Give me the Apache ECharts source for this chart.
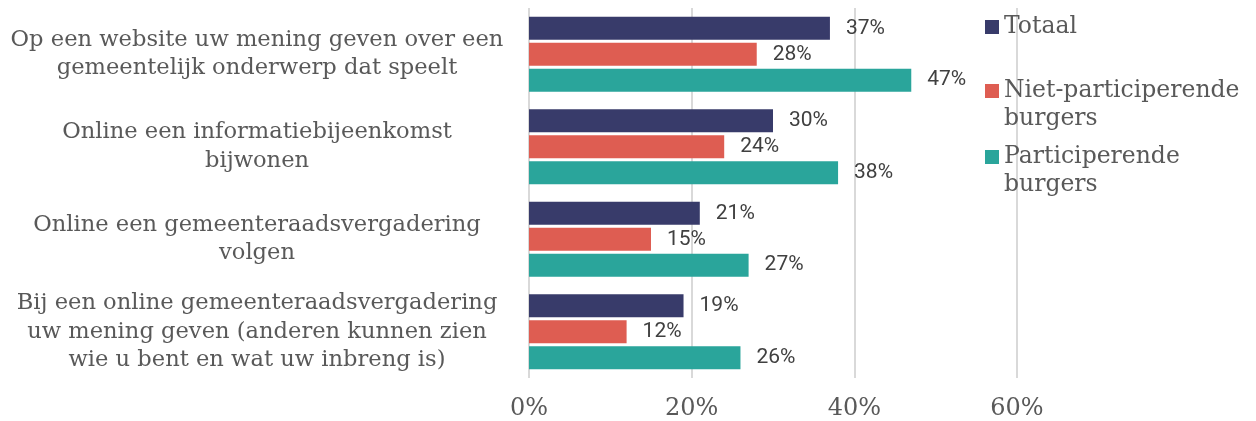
<!DOCTYPE html>
<html><head><meta charset="utf-8">
<script src="https://cdn.jsdelivr.net/npm/echarts@6/dist/echarts.min.js"></script>
<style>html,body{margin:0;padding:0;background:#fff}#c{width:1256px;height:421px}</style>
</head><body><div id="c"></div>
<script>
const categories = [
  "Op een website uw mening geven over een\ngemeentelijk onderwerp dat speelt",
  "Online een informatiebijeenkomst\nbijwonen",
  "Online een gemeenteraadsvergadering\nvolgen",
  "Bij een online gemeenteraadsvergadering\nuw mening geven (anderen kunnen zien\nwie u bent en wat uw inbreng is)"
];
const seriesNames = ["Totaal", "Niet-participerende\nburgers", "Participerende\nburgers"];
const totaal = [37, 30, 21, 19];
const nietParticiperend = [28, 24, 15, 12];
const participerend = [47, 38, 27, 26];
const xTicks = [0, 20, 40, 60];
const colors = ["#383B6A", "#DE5D52", "#2AA59B"];

const serif = "DejaVu Serif";
const chart = echarts.init(document.getElementById('c'));
const mk = (name, data, color) => ({
  name, type: 'bar', data, barWidth: 23, barGap: '13%',
  itemStyle: { color },
  label: { show: true, position: 'right', distance: 16, formatter: '{c}%',
    fontFamily: 'Roboto', fontSize: 21, color: '#404040' }
});
const legendTops = [13, 77, 143];
chart.setOption({
  animation: false,
  grid: { left: 529, right: 239, top: 8, bottom: 43 },
  xAxis: { type: 'value', min: xTicks[0], max: xTicks[xTicks.length-1], interval: 20,
    axisLine: { show: false }, axisTick: { show: false },
    splitLine: { show: true, lineStyle: { color: '#D9D9D9', width: 2 } },
    axisLabel: { formatter: '{value}%', fontFamily: serif, fontSize: 24, color: '#595959', margin: 19 } },
  yAxis: { type: 'category', data: categories, inverse: true,
    axisLine: { show: false }, axisTick: { show: false },
    axisLabel: { align: 'center', margin: 272, fontFamily: serif, fontSize: 22.6, lineHeight: 28.5, color: '#595959' } },
  legend: seriesNames.map((n, i) => ({
    data: [n],
    orient: 'vertical', left: 985, top: legendTops[i], padding: 0,
    itemWidth: 14, itemHeight: i === 0 ? 14 : 42,
    icon: i === 0 ? 'rect' : 'path://M0,0h14v14h-14z M0,42L0,42',
    textStyle: { fontFamily: serif, fontSize: 23.5, lineHeight: 28, color: '#595959' }
  })),
  series: [
    mk(seriesNames[0], totaal, colors[0]),
    mk(seriesNames[1], nietParticiperend, colors[1]),
    mk(seriesNames[2], participerend, colors[2])
  ]
});
</script></body></html>
